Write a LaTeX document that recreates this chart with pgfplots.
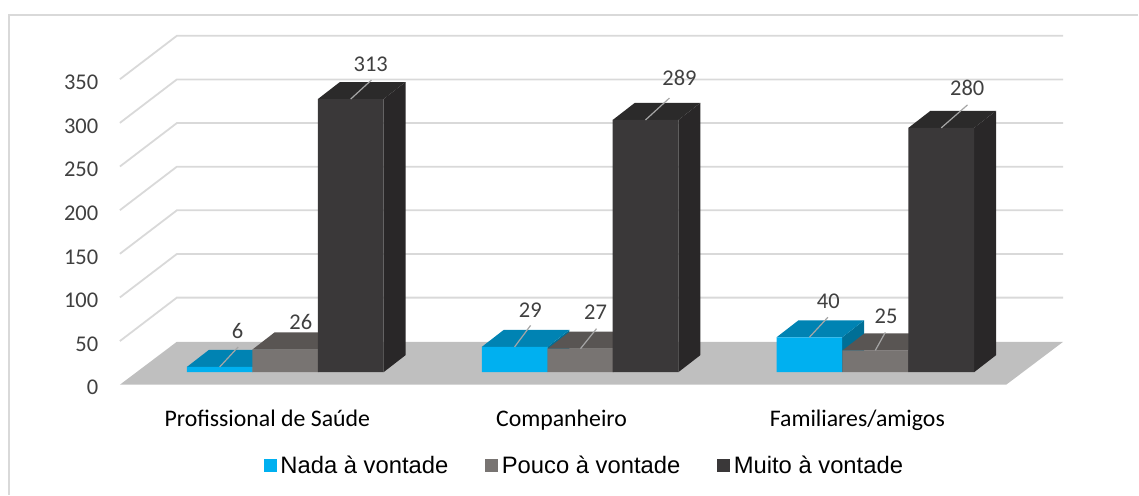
\documentclass[border=0pt]{standalone}
\usepackage{pgfplots}
\pgfplotsset{compat=1.18}
\usepackage{fontspec}
\setmainfont{Carlito}
\newfontfamily\legfont{Liberation Sans}
\definecolor{gridc}{HTML}{D9D9D9}
\definecolor{floorc}{HTML}{BFBFBF}
\definecolor{blueF}{HTML}{00B0F0}
\definecolor{blueT}{HTML}{0083B3}
\definecolor{blueS}{HTML}{006F96}
\definecolor{greyF}{HTML}{787472}
\definecolor{greyT}{HTML}{595553}
\definecolor{greyS}{HTML}{4A4746}
\definecolor{darkF}{HTML}{3A3839}
\definecolor{darkT}{HTML}{2B2A2A}
\definecolor{darkS}{HTML}{292728}
\definecolor{labc}{HTML}{404040}
\pgfmathsetmacro{\bw}{65.7}
\newcommand\depth[4]{%
  \pgfmathsetmacro{\xa}{#1-\bw/2}%
  \pgfmathsetmacro{\xb}{#1+\bw/2}%
  \pgfmathsetmacro{\xc}{#1+\bw/2+22}%
  \pgfmathsetmacro{\xd}{#1-\bw/2+22}%
  \pgfmathsetmacro{\vt}{#2+19.5}%
  \addplot[fill=#4,draw=none,forget plot] coordinates {(\xb,0) (\xc,19.5) (\xc,\vt) (\xb,#2)} -- cycle;
  \addplot[fill=#3,draw=none,forget plot] coordinates {(\xa,#2) (\xb,#2) (\xc,\vt) (\xd,\vt)} -- cycle;
}
\newcommand\lab[7]{%
  \draw[color=black!35,line width=1.2pt] (axis cs:#1,#2) ++(0pt,0pt) -- ++(#3pt,#4pt);
  \node[text=labc,font=\fontsize{22.5}{22}\selectfont,inner sep=0pt] at (axis cs:#1,#2) [xshift=#5pt,yshift=#6pt] {#7};
}
\begin{document}
\begin{tikzpicture}[x=1pt,y=1pt]
\begin{axis}[
  at={(0pt,0pt)},anchor=south west,
  scale only axis,width=1139pt,height=495pt,
  xmin=0,xmax=1139,ymin=-125.94,ymax=440.81,
  clip=false,
  axis line style={draw=none},
  major tick style={draw=none},
  xtick=\empty,
  ytick={0,50,100,150,200,250,300,350},
  yticklabel style={text=labc,font=\fontsize{22.5}{22}\selectfont,xshift=98.5pt,yshift=-3pt,inner sep=0pt,anchor=east},
  /pgf/number format/assume math mode=true,
]
\addplot[fill=floorc,draw=none] coordinates {(120,0) (177,49.2) (1064,49.2) (1007,0)} -- cycle;
\pgfplotsinvokeforeach{50,100,150,200,250,300,350}{
  \pgfmathsetmacro{\vb}{#1+49.8}
  \edef\temp{\noexpand\addplot[color=gridc,line width=1.8pt] coordinates {(120,#1) (177,\vb) (1064,\vb)};}
  \temp
}
\addplot[color=gridc,line width=1.8pt] coordinates {(9,-125.94) (9,423.6) (1139,423.6)};
\end{axis}
\begin{axis}[
  at={(0pt,0pt)},anchor=south west,
  scale only axis,width=1139pt,height=495pt,
  xmin=0,xmax=1139,ymin=-140.26,ymax=426.49,
  clip=false,
  axis line style={draw=none},
  major tick style={draw=none},
  ytick=\empty,
  xtick={267.5,562,858},
  xticklabels={Profissional de Saúde,Companheiro,Familiares/amigos},
  xticklabel style={font=\fontsize{23.8}{24}\selectfont,text=black,yshift=85pt,inner sep=0pt},
  legend style={at={(264pt,29pt)},anchor=west,draw=none,fill=none,legend columns=3,
    font=\legfont\fontsize{23.8}{24}\selectfont,inner sep=0pt,
    /tikz/every even column/.append style={column sep=0pt}},
  legend cell align=left,
]
\depth{219.85}{6}{blueT}{blueS}
\depth{515}{29}{blueT}{blueS}
\depth{810}{40}{blueT}{blueS}
\addplot[ybar,bar shift=0pt,bar width=65.7pt,fill=blueF,draw=none,
  legend image code/.code={\fill[blueF] (0pt,-6.5pt) rectangle (13pt,6.5pt);}]
  coordinates {(219.85,6) (515,29) (810,40)};
\addlegendentry{\mbox{}\hspace{1.5pt}Nada à vontade\hspace{35pt}\mbox{}}
\depth{285.5}{26}{greyT}{greyS}
\depth{581}{27}{greyT}{greyS}
\depth{876}{25}{greyT}{greyS}
\addplot[ybar,bar shift=0pt,bar width=65.7pt,fill=greyF,draw=none,
  legend image code/.code={\fill[greyF] (0pt,-6.5pt) rectangle (13pt,6.5pt);}]
  coordinates {(285.5,26) (581,27) (876,25)};
\addlegendentry{\mbox{}\hspace{1.5pt}Pouco à vontade\hspace{35pt}\mbox{}}
\depth{351}{313}{darkT}{darkS}
\depth{646}{289}{darkT}{darkS}
\depth{942}{280}{darkT}{darkS}
\addplot[ybar,bar shift=0pt,bar width=65.7pt,fill=darkF,draw=none,
  legend image code/.code={\fill[darkF] (0pt,-6.5pt) rectangle (13pt,6.5pt);}]
  coordinates {(351,313) (646,289) (942,280)};
\addlegendentry{\mbox{}\hspace{1.5pt}Muito à vontade}
\lab{219.85}{6}{18.5}{20}{18}{35.6}{6}
\node[text=labc,font=\fontsize{22.5}{22}\selectfont,inner sep=0pt] at (axis cs:285.5,26) [xshift=15.5pt,yshift=28pt] {26};
\lab{351}{313}{20.7}{19}{20}{35}{313}
\lab{515}{29}{16}{21.5}{15.7}{37}{29}
\lab{581}{27}{16}{20}{15}{36}{27}
\lab{646}{289}{24}{22}{34}{42}{289}
\lab{810}{40}{18.5}{20}{19}{36}{40}
\lab{876}{25}{10}{18}{10.7}{34}{25}
\lab{942}{280}{26.3}{23}{26}{40}{280}
\end{axis}
\end{tikzpicture}
\end{document}
